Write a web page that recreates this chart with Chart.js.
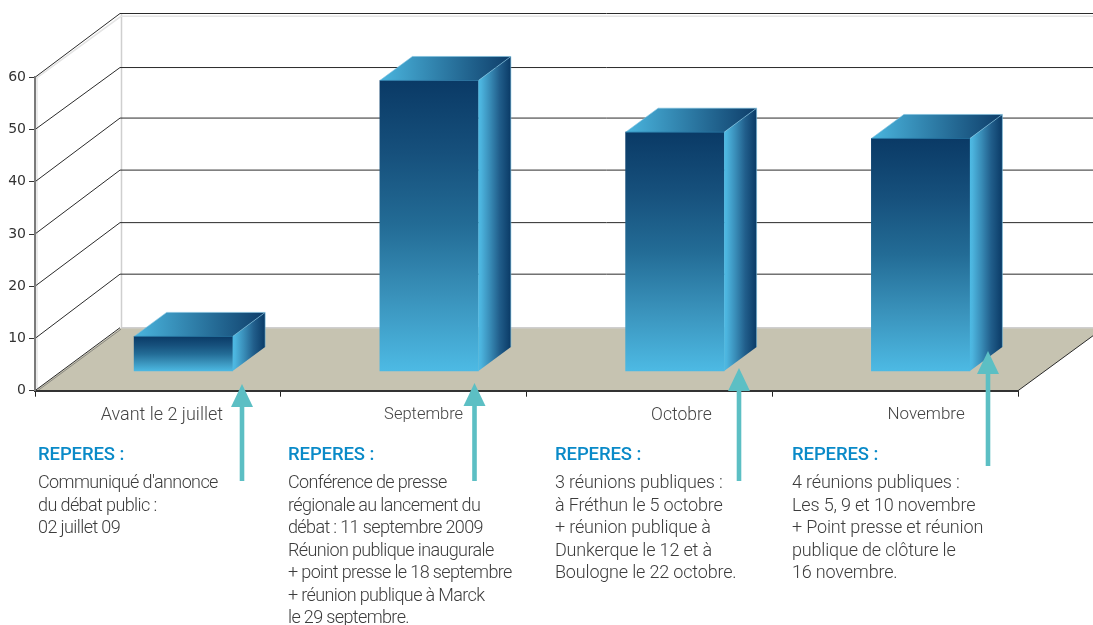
<!DOCTYPE html>
<html lang="fr">
<head>
<meta charset="utf-8">
<title>Repères</title>
<script src="https://cdn.jsdelivr.net/npm/chart.js@4/dist/chart.umd.min.js"></script>
<style>
html,body{margin:0;padding:0;background:#fff;overflow:hidden}
#wrap{position:relative;width:1093px;height:625px;overflow:hidden}
canvas{position:absolute;left:0;top:0}
.note{position:absolute;top:443px;font-family:Roboto,sans-serif;white-space:nowrap}
.note h3{margin:0 0 6px 0;font-size:18.5px;line-height:22px;font-weight:500;color:#0a8ac8;letter-spacing:-.1px}
.note div{font-size:18px;line-height:22.5px;font-weight:300;color:#3c3c3c}
</style>
</head>
<body>
<div id="wrap"><canvas id="c" width="1093" height="625"></canvas></div>
<script>
const categories = ["Avant le 2 juillet", "Septembre", "Octobre", "Novembre"];
const values = [6.7, 55.7, 45.8, 44.6];
const yTicks = [0, 10, 20, 30, 40, 50, 60];
const noteTitle = "REPERES :";
const noteLines = [
  ["Communiqué d'annonce", "du débat public :", "02 juillet 09"],
  ["Conférence de presse", "régionale au lancement du", "débat : 11 septembre 2009", "Réunion publique inaugurale", "+ point presse le 18 septembre", "+ réunion publique à Marck", "le 29 septembre."],
  ["3 réunions publiques :", "à Fréthun le 5 octobre", "+ réunion publique à", "Dunkerque le 12 et à", "Boulogne le 22 octobre."],
  ["4 réunions publiques :", "Les 5, 9 et 10 novembre", "+ Point presse et réunion", "publique de clôture le", "16 novembre."]
];
const noteLeft = [38, 288, 555, 792];
const noteTracking = [-0.6, -0.63, -0.17, -0.17];
const labelShift = [4, 20, 32, 31];
const labelSize = [18, 16.5, 17.5, 17];
const backLineTweak = [0, 1.3, 0.6, 0.9, 0.7, -1, 0.8];
const arrows = [[242, 384, 481], [474.5, 383, 481], [739, 368, 481], [988, 351, 466]];

const wall = {dx: 86, dy: 63};
const barShift = {x: 25.5, y: 19.3};
const barDepth = {x: 32.5, y: 24};

noteLines.forEach((lines, i) => {
  const n = document.createElement("div");
  n.className = "note";
  n.style.left = noteLeft[i] + "px";
  const h = document.createElement("h3");
  h.textContent = noteTitle;
  n.appendChild(h);
  const b = document.createElement("div");
  b.style.letterSpacing = noteTracking[i] + "px";
  b.innerHTML = lines.join("<br>");
  n.appendChild(b);
  document.getElementById("wrap").appendChild(n);
});

const scene = {
  id: "scene",
  beforeDraw(chart) {
    const {ctx, chartArea: a, scales: {x, y}} = chart;
    const items = x.getLabelItems();
    if (!items._moved) {
      items.forEach((it, i) => { it.options.translation[0] += labelShift[i]; });
      items._moved = true;
    }
    const y0 = y.getPixelForValue(0);
    ctx.save();
    // floor
    ctx.fillStyle = "#c6c3b1";
    ctx.beginPath();
    ctx.moveTo(a.left, y0);
    ctx.lineTo(a.left + wall.dx, y0 - wall.dy);
    ctx.lineTo(a.right + wall.dx, y0 - wall.dy);
    ctx.lineTo(a.right, y0);
    ctx.closePath();
    ctx.fill();
    // back wall edge + floor back line
    ctx.strokeStyle = "#cfcfcf";
    ctx.lineWidth = 1.5;
    ctx.beginPath();
    ctx.moveTo(a.left + wall.dx + .5, y.getPixelForValue(60) - wall.dy);
    ctx.lineTo(a.left + wall.dx + .5, y0 - wall.dy);
    ctx.lineTo(a.right + wall.dx, y0 - wall.dy);
    ctx.stroke();
    // light shadow under the top edge
    ctx.strokeStyle = "#e4e4e4";
    ctx.lineWidth = 1.5;
    const yt = y.getPixelForValue(60);
    ctx.beginPath();
    ctx.moveTo(a.left + 1, yt + 1);
    ctx.lineTo(a.left + wall.dx, yt - wall.dy + 2);
    ctx.lineTo(chart.width, yt - wall.dy + 2);
    ctx.stroke();
    ctx.beginPath();
    ctx.moveTo(a.left + 2, a.bottom);
    ctx.lineTo(a.left + 2, yt);
    ctx.stroke();
    // grid lines on the side and back walls
    ctx.lineWidth = 1;
    yTicks.forEach((v, i) => {
      const py = y.getPixelForValue(v);
      const back = py - wall.dy - backLineTweak[i];
      ctx.strokeStyle = "#2a2a2a";
      ctx.beginPath();
      ctx.moveTo(a.left, py);
      ctx.lineTo(a.left + wall.dx - 1, back);
      if (v > 0) ctx.lineTo(chart.width, back);
      ctx.stroke();
    });
    // floor shadow along left edge
    ctx.strokeStyle = "rgba(90,90,90,.55)";
    ctx.beginPath();
    ctx.moveTo(a.left + 2, y0 + .5);
    ctx.lineTo(a.left + wall.dx, y0 - wall.dy + 1.5);
    ctx.stroke();
    // right floor edge
    ctx.strokeStyle = "#2a2a2a";
    ctx.beginPath();
    ctx.moveTo(a.right, y0);
    ctx.lineTo(a.right + wall.dx, y0 - wall.dy);
    ctx.stroke();
    ctx.restore();
  },
  beforeDatasetsDraw(chart) {
    chart.ctx.save();
    chart.ctx.translate(barShift.x, -barShift.y);
  },
  afterDatasetsDraw(chart) {
    const ctx = chart.ctx;
    chart.getDatasetMeta(0).data.forEach(bar => {
      const p = bar.getProps(["x", "y", "base", "width"], true);
      const l = p.x - p.width / 2, r = p.x + p.width / 2;
      const dx = barDepth.x, dy = barDepth.y;
      // top face
      let g = ctx.createLinearGradient(l, 0, r + dx, 0);
      g.addColorStop(0, "#4ab5de");
      g.addColorStop(1, "#0e3d69");
      ctx.fillStyle = g;
      ctx.beginPath();
      ctx.moveTo(l, p.y);
      ctx.lineTo(l + dx, p.y - dy);
      ctx.lineTo(r + dx, p.y - dy);
      ctx.lineTo(r, p.y);
      ctx.closePath();
      ctx.fill();
      // side face
      g = ctx.createLinearGradient(r, 0, r + dx, 0);
      g.addColorStop(0, "#4dbae4");
      g.addColorStop(.08, "#4cb4de");
      g.addColorStop(.35, "#398dB8");
      g.addColorStop(.65, "#215e8b");
      g.addColorStop(1, "#0a3a66");
      ctx.fillStyle = g;
      ctx.beginPath();
      ctx.moveTo(r, p.y);
      ctx.lineTo(r + dx, p.y - dy);
      ctx.lineTo(r + dx, p.base - dy);
      ctx.lineTo(r, p.base);
      ctx.closePath();
      ctx.fill();
      // thin lit edges
      ctx.strokeStyle = "rgba(120,190,222,.6)";
      ctx.lineWidth = 1;
      ctx.beginPath();
      ctx.moveTo(l, p.y);
      ctx.lineTo(l + dx, p.y - dy);
      ctx.lineTo(r + dx, p.y - dy);
      ctx.lineTo(r + dx, p.base - dy);
      ctx.moveTo(r, p.y);
      ctx.lineTo(r + dx, p.y - dy);
      ctx.stroke();
      ctx.strokeStyle = "rgba(40,120,165,.7)";
      ctx.beginPath();
      ctx.moveTo(l, p.y);
      ctx.lineTo(r, p.y);
      ctx.stroke();
    });
    ctx.restore();
  },
  afterDraw(chart) {
    const ctx = chart.ctx;
    ctx.save();
    ctx.fillStyle = "#5cbfc4";
    arrows.forEach(([ax, tip, end]) => {
      ctx.fillRect(ax - 2.3, tip + 20, 4.6, end - tip - 20);
      ctx.beginPath();
      ctx.moveTo(ax, tip);
      ctx.lineTo(ax + 11, tip + 23);
      ctx.lineTo(ax - 11, tip + 23);
      ctx.closePath();
      ctx.fill();
    });
    ctx.restore();
  }
};

new Chart(document.getElementById("c"), {
  type: "bar",
  data: {
    labels: categories,
    datasets: [{
      data: values,
      barThickness: 98.5,
      borderWidth: 0,
      clip: false,
      backgroundColor(c) {
        const ch = c.chart;
        if (!ch.chartArea || c.parsed === undefined) return "#0a3a66";
        const y = ch.scales.y;
        const g = ch.ctx.createLinearGradient(0, y.getPixelForValue(c.parsed.y), 0, y.getPixelForValue(0));
        g.addColorStop(0, "#0a3a66");
        g.addColorStop(.25, "#16507c");
        g.addColorStop(.5, "#236c96");
        g.addColorStop(.75, "#3a93bc");
        g.addColorStop(1, "#4dbae4");
        return g;
      }
    }]
  },
  options: {
    responsive: false,
    animation: false,
    events: [],
    layout: {padding: {top: 77.3, right: 75, left: 0, bottom: 0}},
    plugins: {legend: {display: false}, title: {display: false}, tooltip: {enabled: false}},
    scales: {
      x: {
        type: "category",
        offset: true,
        afterFit(s) { s.height = 625 - 390.7; },
        border: {color: "#333", width: 2},
        grid: {offset: true, drawOnChartArea: false, drawTicks: true, tickLength: 6, color: "#222", lineWidth: 1},
        ticks: {autoSkip: false, maxRotation: 0, color: "#444", padding: 8,
          font: c => ({family: "Roboto", size: labelSize[c.index] || 18, weight: "300"})}
      },
      y: {
        min: 0, max: 60,
        afterFit(s) { s.width = 35; },
        afterBuildTicks(s) { s.ticks = yTicks.map(v => ({value: v})); },
        border: {color: "#7a7a7a", width: 2},
        grid: {drawOnChartArea: false, drawTicks: true, tickLength: 6, color: "#333", lineWidth: 1},
        ticks: {color: "#333", padding: 3, font: {family: "DejaVu Sans", size: 14}}
      }
    }
  },
  plugins: [scene]
});
</script>
</body>
</html>
